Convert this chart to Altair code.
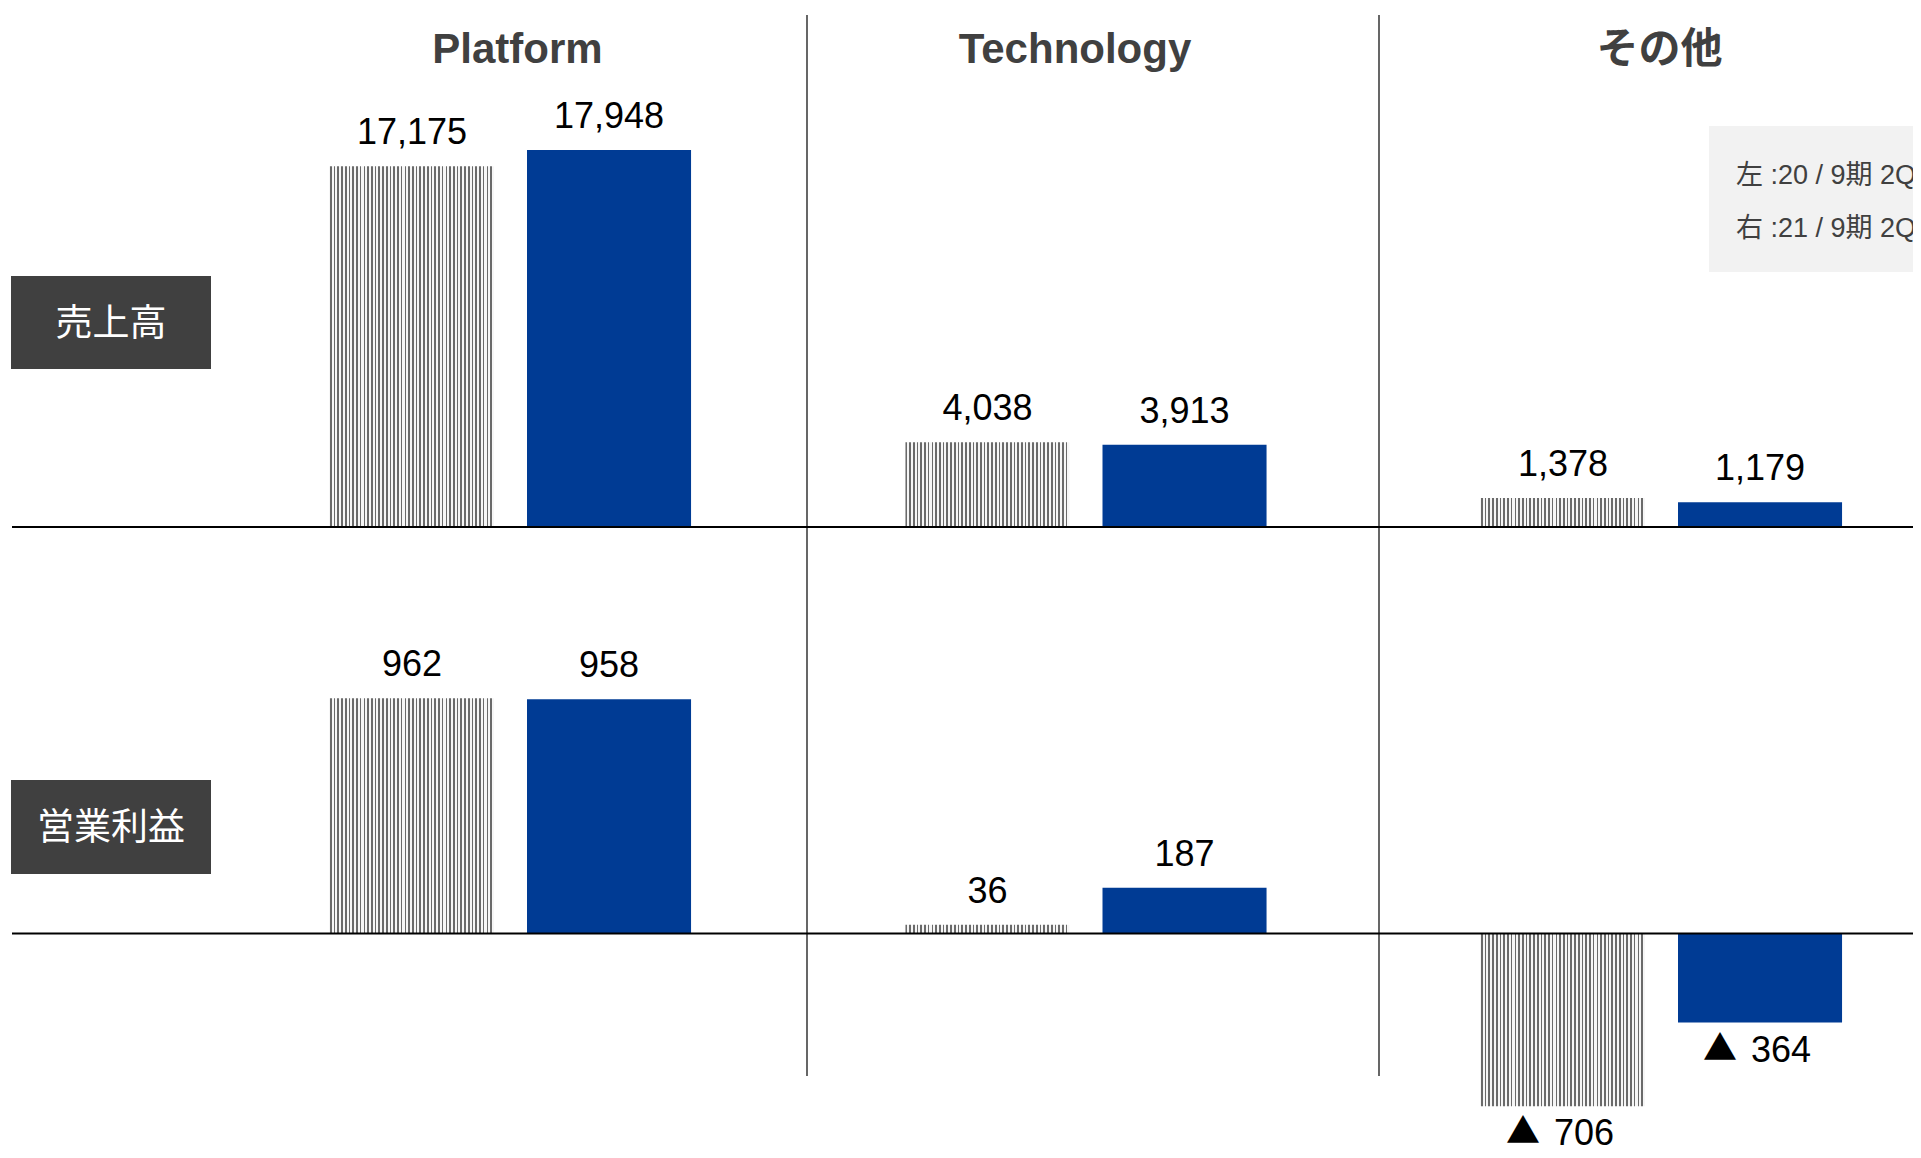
import altair as alt
import pandas as pd

# ---------------- data ----------------
segments = ["Platform", "Technology", "その他"]
periods = ["20/9期 2Q", "21/9期 2Q"]
sales_prev = [17175, 4038, 1378]
sales_curr = [17948, 3913, 1179]
op_prev = [962, 36, -706]
op_curr = [958, 187, -364]
row_labels = ["売上高", "営業利益"]
legend_lines = ["左 :20 / 9期 2Q", "右 :21 / 9期 2Q"]

# ---------------- layout constants ----------------
W, H = 1905, 1142
ZERO_TOP, K_TOP = 519.0, 0.02100   # pixel of zero line, px per unit
ZERO_BOT, K_BOT = 925.5, 0.2446

NUM_FONT = "Liberation Sans, Arial, Noto Sans CJK JP"
JP_FONT = "Noto Sans CJK JP"
DARK = "#404040"
BLUE = "#003B94"


def make_frame(prev, curr):
    rows = []
    for s, a, b in zip(segments, prev, curr):
        for p, v in zip(periods, (a, b)):
            rows.append({"seg": s, "period": p, "v": v, "num": f"{abs(v):,}"})
    return pd.DataFrame(rows)


sales_df = make_frame(sales_prev, sales_curr)
op_df = make_frame(op_prev, op_curr)

x_scale = alt.Scale(domain=segments, range=[214.75, 1941.25], paddingInner=0, paddingOuter=0)
xo_scale = alt.Scale(domain=periods, paddingInner=0.1675, paddingOuter=0.544)


def y_scale(zero_px, k):
    return alt.Scale(domain=[-(H - zero_px) / k, zero_px / k], nice=False, zero=False)


# dotted (halftone-like) fill as fine vertical stripes
stops = []
N = 44
for i in range(N):
    a = i / N
    b = (i + 0.45) / N
    c = (i + 1) / N
    stops += [
        {"offset": a, "color": "#6a6a6a"},
        {"offset": b, "color": "#6a6a6a"},
        {"offset": b, "color": "#f6f6f6"},
        {"offset": c, "color": "#f6f6f6"},
    ]
dots = {"gradient": "linear", "x1": 0, "x2": 1, "y1": 0, "y2": 0, "stops": stops}


def row(df, zero_px, k):
    ys = y_scale(zero_px, k)
    base = alt.Chart(df).encode(
        x=alt.X("seg:N", scale=x_scale, axis=None),
        xOffset=alt.XOffset("period:N", scale=xo_scale),
        y=alt.Y("v:Q", scale=ys, axis=None),
    )
    prev = base.transform_filter(alt.datum.period == periods[0]).mark_bar(fill=dots)
    curr = base.transform_filter(alt.datum.period == periods[1]).mark_bar(fill=BLUE)
    pos = base.transform_filter(alt.datum.v >= 0).mark_text(
        baseline="middle", dy=-33, fontSize=36, font=NUM_FONT, color="#000000"
    ).encode(text="num:N")
    neg_num = base.transform_filter(alt.datum.v < 0).mark_text(
        baseline="middle", align="left", dx=-9, dy=28, fontSize=36, font=NUM_FONT, color="#000000"
    ).encode(text="num:N")
    neg_sign = base.transform_filter(alt.datum.v < 0).mark_text(
        baseline="middle", align="center", dx=-40, dy=27, fontSize=34, font=JP_FONT, color="#000000"
    ).encode(text=alt.value("▲"))
    zero = alt.Chart(pd.DataFrame({"v": [0]})).mark_rule(color="#000000", strokeWidth=2).encode(
        y=alt.Y("v:Q", scale=ys, axis=None), x=alt.value(4), x2=alt.value(W)
    )
    return alt.layer(prev, curr, pos, neg_num, neg_sign, zero)


top_row = row(sales_df, ZERO_TOP, K_TOP)
bot_row = row(op_df, ZERO_BOT, K_BOT)

one = pd.DataFrame({"k": [0]})

dividers = [
    alt.Chart(one).mark_rule(color=DARK, strokeWidth=1.6).encode(
        x=alt.value(xp), y=alt.value(7), y2=alt.value(1068)
    )
    for xp in (799, 1371)
]

title_df = pd.DataFrame({"seg": segments})
titles = [
    alt.Chart(title_df).transform_filter(alt.datum.seg == s).mark_text(
        fontSize=42, fontWeight="bold", color=DARK, font="Liberation Sans, Arial, Noto Sans CJK JP",
        baseline="middle", dx=dx,
    ).encode(x=alt.X("seg:N", scale=x_scale, axis=None), y=alt.value(42), text="seg:N")
    for s, dx in zip(segments, (7, -11, -2))
]

boxes = []
for lab, (y0, y1) in zip(row_labels, [(268, 361), (772, 866)]):
    d = pd.DataFrame({"t": [lab]})
    boxes.append(
        alt.Chart(d).mark_rect(color=DARK).encode(
            x=alt.value(3), x2=alt.value(203), y=alt.value(y0), y2=alt.value(y1)
        )
    )
    boxes.append(
        alt.Chart(d).mark_text(color="#ffffff", fontSize=37, font=JP_FONT, baseline="middle").encode(
            x=alt.value(103), y=alt.value((y0 + y1) / 2 + 2), text="t:N"
        )
    )

legend = [
    alt.Chart(one).mark_rect(color="#f2f2f2").encode(
        x=alt.value(1701), x2=alt.value(W), y=alt.value(118), y2=alt.value(264)
    )
]
for line, yp in zip(legend_lines, (168, 221)):
    legend.append(
        alt.Chart(pd.DataFrame({"t": [line]})).mark_text(
            color=DARK, fontSize=27, font=NUM_FONT, align="left", baseline="middle"
        ).encode(x=alt.value(1728), y=alt.value(yp), text="t:N")
    )

chart = (
    alt.layer(*dividers, top_row, bot_row, *titles, *boxes, *legend)
    .resolve_scale(y="independent")
    .properties(width=W, height=H, autosize=alt.AutoSizeParams(type="none"), padding=0)
    .configure_view(stroke=None)
)

chart.save("out.html", embed_options={"renderer": "svg", "actions": False})
